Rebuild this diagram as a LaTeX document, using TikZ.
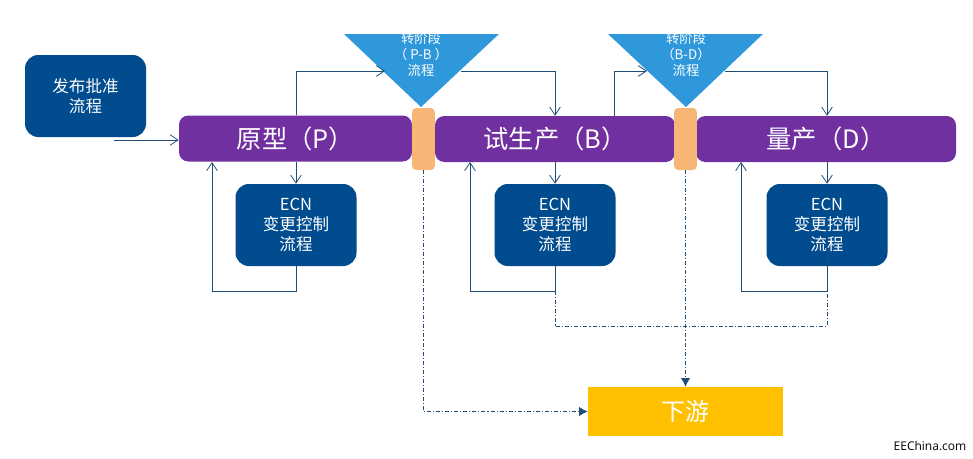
\documentclass[tikz,border=0pt]{standalone}
\usepackage{fontspec}
\usepackage{xcolor}
\usepackage{tikz}
\usetikzlibrary{arrows.meta,positioning}
\setmainfont{Noto Sans CJK SC}
\newfontfamily\markfont{Open Sans}
\definecolor{EcnBlue}{RGB}{0,76,143}
\definecolor{StagePurple}{RGB}{112,48,160}
\definecolor{GateOrange}{RGB}{248,182,118}
\definecolor{TriBlue}{RGB}{46,152,219}
\definecolor{DownYellow}{RGB}{255,192,0}
\definecolor{LineBlue}{RGB}{31,78,121}
\tikzset{
    ecnbox/.style={rectangle,rounded corners=10pt,fill=EcnBlue,text=white,inner sep=0pt,minimum width=90.75pt,minimum height=61.5pt,align=center,font=\fontsize{12.4}{15}\selectfont},
    stagebar/.style={rectangle,rounded corners=7pt,fill=StagePurple,text=white,inner sep=0pt,minimum height=34.5pt,font=\fontsize{19}{22}\selectfont},
    gatebar/.style={rectangle,rounded corners=3pt,fill=GateOrange,inner sep=0pt,minimum width=17pt,minimum height=46.5pt},
    trilabel/.style={text=white,inner sep=0pt,align=center,font=\fontsize{10}{12}\selectfont},
    flowline/.style={->,>={Straight Barb[length=6pt,width=8pt]},line width=0.6pt,color=LineBlue},
    dashline/.style={line width=0.6pt,color=LineBlue,dash pattern=on 3pt off 1.5pt on 0.8pt off 1.5pt},
    dasharrow/.style={dashline,-{Latex[length=6.5pt,width=7pt]}}
}
\begin{document}
\begin{tikzpicture}[x=0.75pt,y=-0.75pt]
    \useasboundingbox (0,0) rectangle (973,458);
    \node[ecnbox] (release) at (85.5,96) {发布批准\\流程};
    \node[stagebar,minimum width=174.75pt] (protoBar) at (295.5,138.5) {原型（P）};
    \node[stagebar,minimum width=180pt] (pilotBar) at (555,139) {试生产（B）};
    \node[stagebar,minimum width=195pt] (massBar) at (826,139) {量产（D）};
    \node[gatebar] (gatePB) at (423.5,139) {};
    \node[gatebar] (gateBD) at (685.5,139) {};
    \node[ecnbox] (ecnP) at (296,225) {ECN\\变更控制\\流程};
    \node[ecnbox] (ecnB) at (555,225) {ECN\\变更控制\\流程};
    \node[ecnbox] (ecnD) at (827,225) {ECN\\变更控制\\流程};
    \node[rectangle,fill=DownYellow,text=white,inner sep=0pt,minimum width=146.25pt,minimum height=36.75pt,font=\fontsize{18}{22}\selectfont] (downstream) at (685.5,411.5) {下游};
    \node[inner sep=0pt,font=\markfont\fontsize{9}{11}\selectfont] (siteMark) at (930,446) {EEChina.com};
    \begin{scope}
        \clip (0,34) rectangle (973,458);
        \fill[TriBlue] (344,34) -- (499,34) -- (421,107) -- cycle;
        \fill[TriBlue] (608,34) -- (763,34) -- (686,107) -- cycle;
        \node[trilabel] (triPB) at (421,54) {转阶段\\（ P-B ）\\流程};
        \node[trilabel] (triBD) at (686,54) {转阶段\\（B-D）\\流程};
    \end{scope}
    \coordinate (releaseOut) at (114,140);
    \coordinate (triPBin) at (385,71);
    \coordinate (triPBout) at (461,71);
    \coordinate (triBDin) at (647,71);
    \coordinate (triBDout) at (725,71);
    \coordinate (pilotOut) at (614,116);

    \draw[flowline] (releaseOut) -- (releaseOut -| protoBar.west);
    \draw[flowline] (ecnP.north |- protoBar.north) |- (triPBin);
    \draw[flowline] (triPBout) -| (ecnB.north |- pilotBar.north);
    \draw[flowline] (pilotOut) |- (triBDin);
    \draw[flowline] (triBDout) -| (ecnD.north |- massBar.north);
    \draw[flowline] (ecnP.north |- protoBar.south) -- (ecnP.north);
    \draw[flowline] (ecnB.north |- pilotBar.south) -- (ecnB.north);
    \draw[flowline] (ecnD.north |- massBar.south) -- (ecnD.north);
    \draw[flowline] (ecnP.south) -- ++(0,25) -| (212,162);
    \draw[flowline] (ecnB.south) -- ++(0,25) -| (470,162);
    \draw[flowline] (ecnD.south) -- ++(0,25) -| (741,162);
    \draw[dasharrow] (gatePB.south) |- (downstream.west);
    \draw[dasharrow] (gateBD.south) -- (downstream.north);
    \draw[dashline] (ecnB.south) ++(0,25) -- ++(0,35) -| ([yshift=18.75pt]ecnD.south);
\end{tikzpicture}
\end{document}
